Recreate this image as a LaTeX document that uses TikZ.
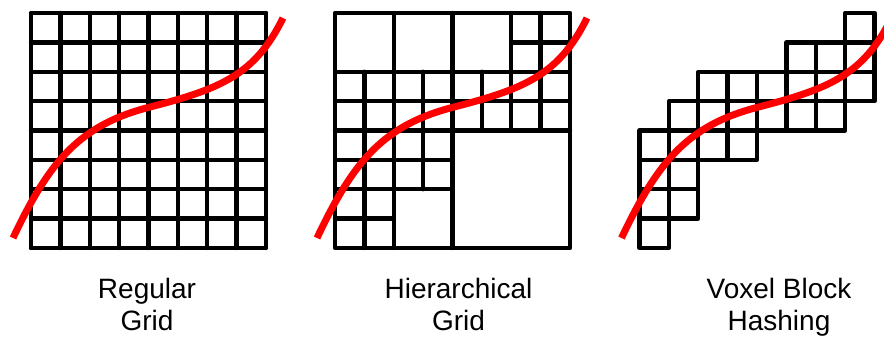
\documentclass[tikz,border=0pt]{standalone}
\usepackage{fontspec}
\setmainfont{Liberation Sans}
\begin{document}
\begin{tikzpicture}[x=1pt,y=-1pt,
  gridline/.style={line width=4.3pt,line cap=round,line join=round,black},
  curve/.style={line width=7pt,red},
  label/.style={anchor=base,inner sep=0pt,font=\fontsize{28}{32}\selectfont}]
\useasboundingbox (0,0) rectangle (884,338);
\clip (0,0) rectangle (884,338);
\def\cs{29.375}
% curve macro
\newcommand\redcurve[1]{%
  \draw[curve,shift={(#1,13)}] (-18,225) .. controls (19,147) and (49,112) .. (119,94)
     .. controls (189,76) and (224,62) .. (252,5);}
% ---------- Regular grid ----------
\begin{scope}[shift={(31,13)},x=\cs pt,y=-\cs pt]
  \foreach \i in {0,...,8}
    \draw[gridline] (\i,0) -- (\i,8) (0,\i) -- (8,\i);
\end{scope}
\redcurve{31}
% ---------- Hierarchical grid ----------
\begin{scope}[shift={(335,13)},x=\cs pt,y=-\cs pt]
  \draw[gridline] (0,0) rectangle (8,8);
  \draw[gridline] (0,2) -- (8,2) (0,3) -- (8,3) (0,4) -- (8,4)
    (6,1) -- (8,1) (0,5) -- (4,5) (0,6) -- (4,6) (0,7) -- (2,7);
  \draw[gridline] (2,0) -- (2,8) (4,0) -- (4,8) (6,0) -- (6,4) (7,0) -- (7,4)
    (1,2) -- (1,8) (3,2) -- (3,6) (5,2) -- (5,4);
\end{scope}
\redcurve{335}
% ---------- Voxel block hashing ----------
\begin{scope}[shift={(639.5,13)},x=\cs pt,y=-\cs pt]
  \foreach \c/\r in {7/0, 5/1,6/1,7/1, 2/2,3/2,4/2,5/2,6/2,7/2,
                     1/3,2/3,3/3,4/3,5/3,6/3, 0/4,1/4,2/4,3/4,
                     0/5,1/5, 0/6,1/6, 0/7}
    \draw[gridline] (\c,\r) rectangle ++(1,1);
\end{scope}
\redcurve{639.5}
% ---------- labels ----------
\node[label] (l1a) at (147,298) {Regular};
\node[label] (l1b) at (147,330) {Grid};
\node[label] (l2a) at (458.5,298) {Hierarchical};
\node[label] (l2b) at (458.5,330) {Grid};
\node[label] (l3a) at (779,298) {Voxel Block};
\node[label] (l3b) at (779,330) {Hashing};
\end{tikzpicture}
\end{document}
